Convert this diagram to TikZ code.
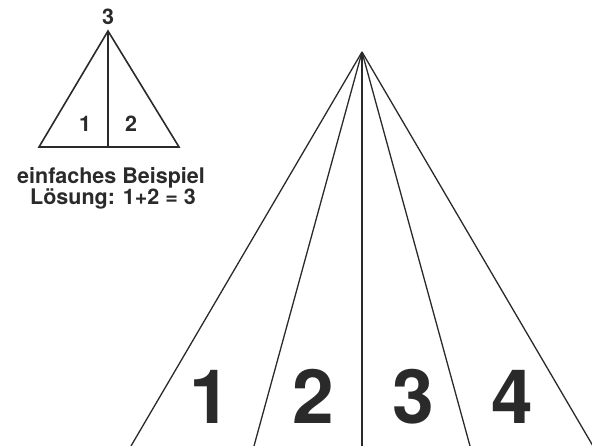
\documentclass[tikz,border=0pt]{standalone}
\usepackage{fontspec}
\setmainfont{TeX Gyre Heros}
\definecolor{ink}{HTML}{2A2A2A}
\begin{document}
\begin{tikzpicture}[x=1pt,y=-1pt,
  edge/.style={draw=ink,line width=1.6pt},
  bigedge/.style={draw=ink,line width=1.3pt},
  small/.style={text=ink,font=\fontsize{21.5}{24}\selectfont\bfseries,inner sep=0pt},
  big/.style={text=ink,font=\fontsize{75}{75}\selectfont\bfseries,inner sep=0pt}]
\useasboundingbox (0,0) rectangle (592,446);
\clip (0,0) rectangle (592,446);
% small triangle
\coordinate (sa) at (108,31);
\coordinate (sl) at (39,147);
\coordinate (sr) at (179,147);
\coordinate (sm) at (108,147);
\draw[edge,line join=miter] (sa) -- (sl) -- (sr) -- cycle;
\draw[edge] (sa) -- (sm);
\node[small,anchor=base] (s3) at (108,25) {3};
\node[small,anchor=base] (s1) at (85,132) {1};
\node[small,anchor=base] (s2) at (131,132) {2};
\node[small,anchor=base] (cap1) at (111,184) {einfaches Beispiel};
\node[small,anchor=base] (cap2) at (113,205) {Lösung: 1+2 = 3};
% big triangle
\coordinate (ba) at (362,52);
\coordinate (b1) at (131,446);
\coordinate (b2) at (254,446);
\coordinate (b3) at (362,446);
\coordinate (b4) at (470,446);
\coordinate (b5) at (593,446);
\foreach \p in {b1,b2,b3,b4,b5} \draw[bigedge] (ba) -- (\p);
\node[big,anchor=base] (n1) at (210,423) {1};
\node[big,anchor=base] (n2) at (313,423) {2};
\node[big,anchor=base] (n3) at (413,423) {3};
\node[big,anchor=base] (n4) at (512,423) {4};
\end{tikzpicture}
\end{document}
